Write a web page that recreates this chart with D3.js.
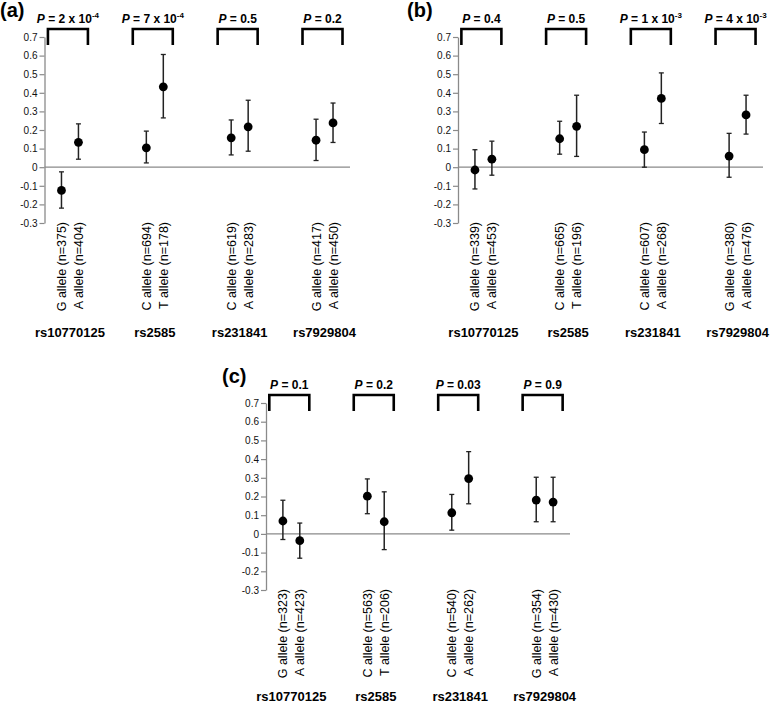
<!DOCTYPE html>
<html>
<head>
  <meta charset="utf-8" />
  <script src="https://d3js.org/d3.v7.min.js"></script>
  <style>
    body { margin: 0; background: white; }
    svg { display: block; font-family: "Liberation Sans", Arial, sans-serif; }
  </style>
</head>
<body>
  <svg id="fig" width="773" height="703"></svg>
  <script>
    // SNPs, shared by all three panels
    const snps = ["rs10770125", "rs2585", "rs231841", "rs7929804"];
    const yTicks = [0.7, 0.6, 0.5, 0.4, 0.3, 0.2, 0.1, 0, -0.1, -0.2, -0.3];
    const yTickLabels = ["0.7", "0.6", "0.5", "0.4", "0.3", "0.2", "0.1", "0", "-0.1", "-0.2", "-0.3"];

    // panel (a)
    const allelesA = ["G allele (n=375)", "A allele (n=404)", "C allele (n=694)", "T allele (n=178)",
      "C allele (n=619)", "A allele (n=283)", "G allele (n=417)", "A allele (n=450)"];
    const meanA = [-0.125, 0.134, 0.104, 0.432, 0.158, 0.217, 0.145, 0.238];
    const lowA = [-0.22, 0.043, 0.023, 0.265, 0.066, 0.086, 0.036, 0.133];
    const highA = [-0.025, 0.233, 0.194, 0.606, 0.254, 0.36, 0.258, 0.345];
    const pBaseA = ["2 x 10", "7 x 10", "0.5", "0.2"];
    const pExpA = ["-4", "-4", "", ""];

    // panel (b)
    const allelesB = ["G allele (n=339)", "A allele (n=453)", "C allele (n=665)", "T allele (n=196)",
      "C allele (n=607)", "A allele (n=268)", "G allele (n=380)", "A allele (n=476)"];
    const meanB = [-0.015, 0.043, 0.153, 0.22, 0.094, 0.37, 0.06, 0.281];
    const lowB = [-0.117, -0.043, 0.07, 0.058, 0.0, 0.235, -0.054, 0.178];
    const highB = [0.094, 0.14, 0.247, 0.387, 0.189, 0.507, 0.182, 0.387];
    const pBaseB = ["0.4", "0.5", "1 x 10", "4 x 10"];
    const pExpB = ["", "", "-3", "-3"];

    // panel (c)
    const allelesC = ["G allele (n=323)", "A allele (n=423)", "C allele (n=563)", "T allele (n=206)",
      "C allele (n=540)", "A allele (n=262)", "G allele (n=354)", "A allele (n=430)"];
    const meanC = [0.069, -0.036, 0.202, 0.065, 0.113, 0.296, 0.181, 0.17];
    const lowC = [-0.03, -0.13, 0.108, -0.084, 0.02, 0.161, 0.065, 0.065];
    const highC = [0.18, 0.058, 0.294, 0.225, 0.211, 0.44, 0.303, 0.303];
    const pBaseC = ["0.1", "0.2", "0.03", "0.9"];
    const pExpC = ["", "", "", ""];

    const svg = d3.select("#fig");

    function drawPanel(opt) {
      const g = svg.append("g");

      // category slots: two alleles per SNP, three empty slots between SNPs
      const slot = i => Math.floor(i / 2) * 5 + (i % 2);
      const x = d3.scaleLinear().domain([-1, 17]).range([opt.x0, opt.x1]);
      const y = d3.scaleLinear().domain([-0.3, 0.7]).range([opt.yBottom, opt.yTop]);

      // y axis
      const axis = d3.axisLeft(y).tickValues(yTicks)
        .tickFormat((d, i) => yTickLabels[i]).tickSize(5).tickSizeOuter(0);
      const ax = g.append("g").attr("transform", "translate(" + opt.x0 + ",0)").call(axis);
      ax.select(".domain").attr("stroke", "#8a8a8a").attr("stroke-width", 1.3);
      ax.selectAll(".tick line").attr("stroke", "#8a8a8a").attr("stroke-width", 1.2);
      ax.selectAll(".tick text").attr("font-size", 10).attr("fill", "#111")
        .attr("font-family", "Liberation Sans, Arial, sans-serif").attr("x", -7);

      // zero line
      g.append("line")
        .attr("x1", opt.x0).attr("x2", opt.x1)
        .attr("y1", y(0)).attr("y2", y(0))
        .attr("stroke", "#8a8a8a").attr("stroke-width", 1.3);

      // error bars
      const idx = d3.range(opt.mean.length);
      g.selectAll(".bar").data(idx).join("line")
        .attr("x1", i => x(slot(i))).attr("x2", i => x(slot(i)))
        .attr("y1", i => y(opt.high[i])).attr("y2", i => y(opt.low[i]))
        .attr("stroke", "#222").attr("stroke-width", 1.5);
      [opt.high, opt.low].forEach(arr => {
        g.selectAll(null).data(idx).join("line")
          .attr("x1", i => x(slot(i)) - 2.5).attr("x2", i => x(slot(i)) + 2.5)
          .attr("y1", i => y(arr[i])).attr("y2", i => y(arr[i]))
          .attr("stroke", "#222").attr("stroke-width", 1.3);
      });

      g.selectAll("circle").data(idx).join("circle")
        .attr("cx", i => x(slot(i))).attr("cy", i => y(opt.mean[i]))
        .attr("r", 4.4).attr("fill", "black");

      // rotated allele labels
      g.selectAll(".allele").data(opt.alleles).join("text")
        .attr("transform", (d, i) => "translate(" + (x(slot(i)) + 4.5) + "," + (y(-0.3) - 1) + ")rotate(-90)")
        .attr("text-anchor", "end")
        .attr("font-size", 12.5)
        .attr("fill", "black")
        .text(d => d);

      // snp names
      g.selectAll(".snp").data(snps).join("text")
        .attr("x", (d, k) => x(k * 5 + 0.5))
        .attr("y", Math.min(y(-0.3) + 114, 701))
        .attr("text-anchor", "middle")
        .attr("font-size", 13).attr("font-weight", "bold")
        .text(d => d);

      // brackets with P values
      snps.forEach((s, k) => {
        const c = x(k * 5 + 0.38);
        const top = y(0.7) - 8, bot = y(0.7) + 8;
        g.append("path")
          .attr("d", "M" + (c - 20) + "," + bot + "V" + top + "H" + (c + 20) + "V" + bot)
          .attr("fill", "none").attr("stroke", "black").attr("stroke-width", 2.6);
        const t = g.append("text")
          .attr("x", c).attr("y", y(0.7) - 14)
          .attr("text-anchor", "middle")
          .attr("font-size", 12).attr("font-weight", "bold");
        t.append("tspan").attr("font-style", "italic").text("P");
        t.append("tspan").text(" = " + opt.pBase[k]);
        if (opt.pExp[k]) {
          t.append("tspan").attr("dy", -5).attr("font-size", 8).text(opt.pExp[k]);
        }
      });

      svg.append("text")
        .attr("x", opt.labelX).attr("y", opt.labelY)
        .attr("font-size", 20).attr("font-weight", "bold")
        .text(opt.label);
    }

    drawPanel({ label: "(a)", labelX: 0, labelY: 17, x0: 44.5, x1: 350, yTop: 37, yBottom: 223,
      alleles: allelesA, mean: meanA, low: lowA, high: highA, pBase: pBaseA, pExp: pExpA });
    drawPanel({ label: "(b)", labelX: 407, labelY: 17, x0: 458, x1: 763, yTop: 37, yBottom: 223,
      alleles: allelesB, mean: meanB, low: lowB, high: highB, pBase: pBaseB, pExp: pExpB });
    drawPanel({ label: "(c)", labelX: 222, labelY: 383, x0: 266, x1: 570, yTop: 403, yBottom: 590,
      alleles: allelesC, mean: meanC, low: lowC, high: highC, pBase: pBaseC, pExp: pExpC });
  </script>
</body>
</html>
